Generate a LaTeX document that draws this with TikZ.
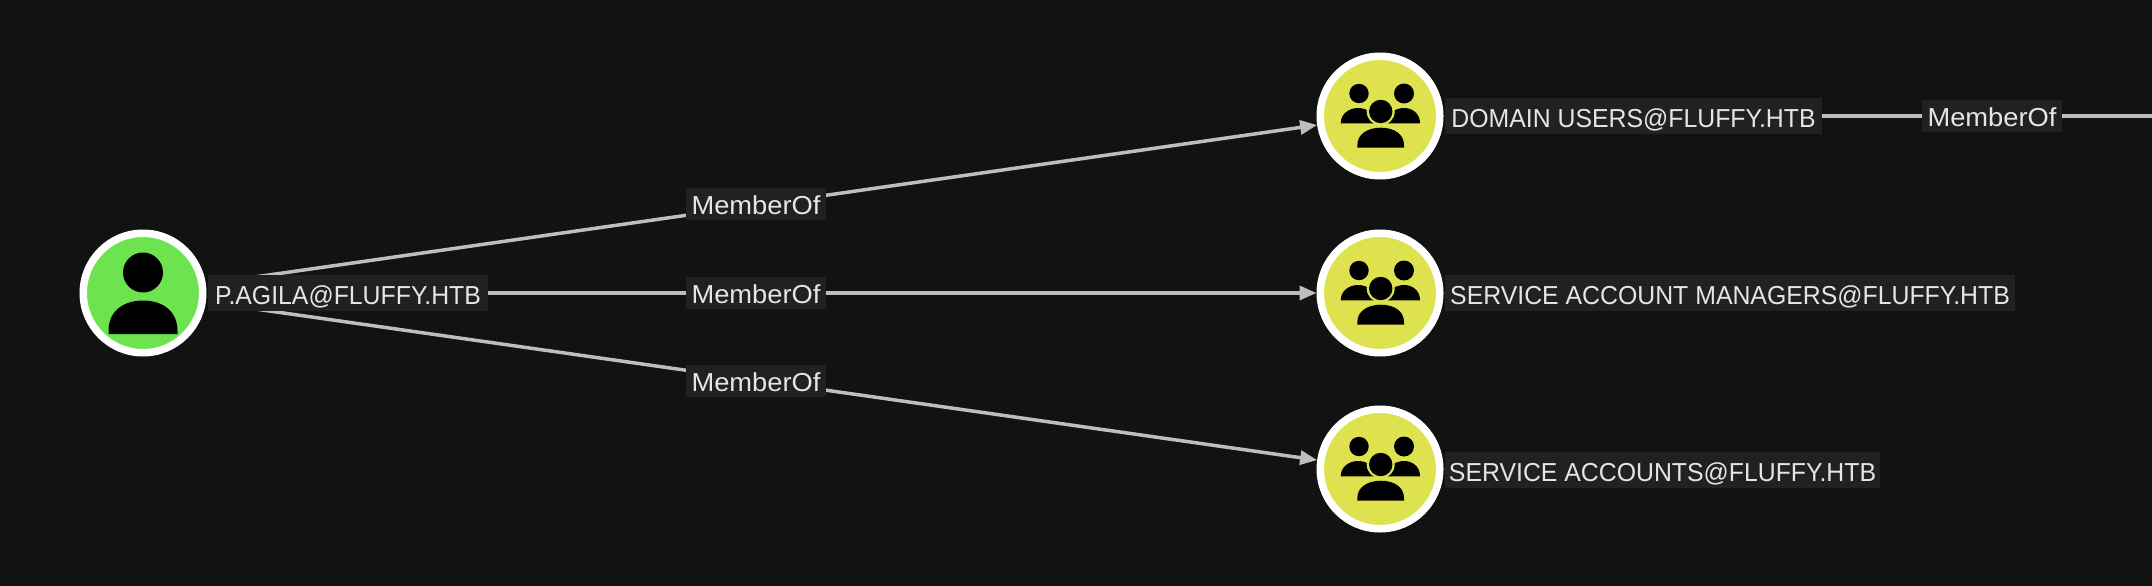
\documentclass[tikz,border=0pt]{standalone}
\usepackage{fontspec}
\setmainfont{Liberation Sans}
\newfontfamily\capsfont[FakeStretch=0.955]{Liberation Sans}
\newfontfamily\edgefont[FakeStretch=1.05]{Liberation Sans}
\usetikzlibrary{arrows.meta}
\definecolor{bgc}{HTML}{121212}
\definecolor{boxc}{HTML}{212121}
\definecolor{userc}{HTML}{6CE34F}
\definecolor{groupc}{HTML}{DEE24F}
\definecolor{edgec}{HTML}{BEBEBE}
\tikzset{
  vertex/.style={circle,draw=white,line width=7.5pt,inner sep=0pt,minimum size=119.5pt},
  user/.style={vertex,fill=userc},
  group/.style={vertex,fill=groupc},
  tag/.style={fill=boxc,text=white!90!black,inner sep=0pt},
  captag/.style={tag,font=\capsfont\fontsize{26}{30}\selectfont,minimum height=36pt,text height=23.7pt,text depth=0pt},
  edgetag/.style={tag,font=\edgefont\fontsize{26}{30}\selectfont,minimum height=32pt,minimum width=140pt,text height=20pt,text depth=0pt},
  edgeline/.style={draw=edgec,line width=3.5pt,shorten <=6pt},
  arrowed/.style={edgeline,-{Triangle[length=17pt,width=14pt,fill=edgec]}},
}
\newcommand{\usericon}[2]{%
  \begin{scope}[shift={(#1,#2)}]
    \fill[black] (0,-20.5) circle (20);
    \fill[black] (-34.5,41) -- (-34.5,38) .. controls (-34.5,16) and (-17,7.5) .. (0,7.5) .. controls (17,7.5) and (34.5,16) .. (34.5,38) -- (34.5,41) -- cycle;
  \end{scope}}
\newcommand{\groupicon}[2]{%
  \begin{scope}[shift={(#1,#2)}]
    \fill[black] (-21,-22.5) circle (9.7);
    \fill[black] (24,-22.5) circle (10);
    \fill[black] (-39.3,7.3) .. controls (-39.3,-2) and (-31,-8) .. (-22,-8) .. controls (-13,-8) and (-4,-2) .. (-4,7.3) -- cycle;
    \fill[black] (40,7.3) .. controls (40,-2) and (33,-8) .. (24,-8) .. controls (15,-8) and (6,-2) .. (6,7.3) -- cycle;
    \fill[groupc] (0.7,-4.5) circle (14);
    \fill[black] (0.7,-4.5) circle (11.7);
    \fill[black] (-22.7,31.7) -- (-22.7,29) .. controls (-22.7,18) and (-12,11.7) .. (0.7,11.7) .. controls (14,11.7) and (24,18) .. (24,29) -- (24,31.7) -- cycle;
  \end{scope}}
\begin{document}
\begin{tikzpicture}[x=1pt,y=-1pt]
  \fill[bgc] (0,0) rectangle (2152,586);
  \useasboundingbox (0,0) rectangle (2152,586);

  \node[user] (u) at (143,293) {};
  \node[group] (g1) at (1380,116) {};
  \node[group] (g2) at (1380,293) {};
  \node[group] (g3) at (1380,469) {};
  \coordinate (out) at (2152,116);

  \draw[arrowed] (u) -- (g1);
  \draw[arrowed] (u) -- (g2);
  \draw[arrowed] (u) -- (g3);
  \draw[edgeline] (g1) -- (out);

  \usericon{143}{293}
  \groupicon{1380}{116}
  \groupicon{1380}{293}
  \groupicon{1380}{469}

  \node[captag,minimum width=280pt] (lu) at (348,292.5) {P.AGILA@FLUFFY.HTB};
  \node[captag,minimum width=377pt] (l1) at (1633.5,116) {DOMAIN USERS@FLUFFY.HTB};
  \node[captag,minimum width=570pt] (l2) at (1730,292.5) {SERVICE ACCOUNT MANAGERS@FLUFFY.HTB};
  \node[captag,minimum width=435pt] (l3) at (1662.5,470) {SERVICE ACCOUNTS@FLUFFY.HTB};
  \node[edgetag] (m1) at (756,204) {MemberOf};
  \node[edgetag] (m2) at (756,293) {MemberOf};
  \node[edgetag] (m3) at (756,381) {MemberOf};
  \node[edgetag] (m4) at (1992,116) {MemberOf};
\end{tikzpicture}
\end{document}
